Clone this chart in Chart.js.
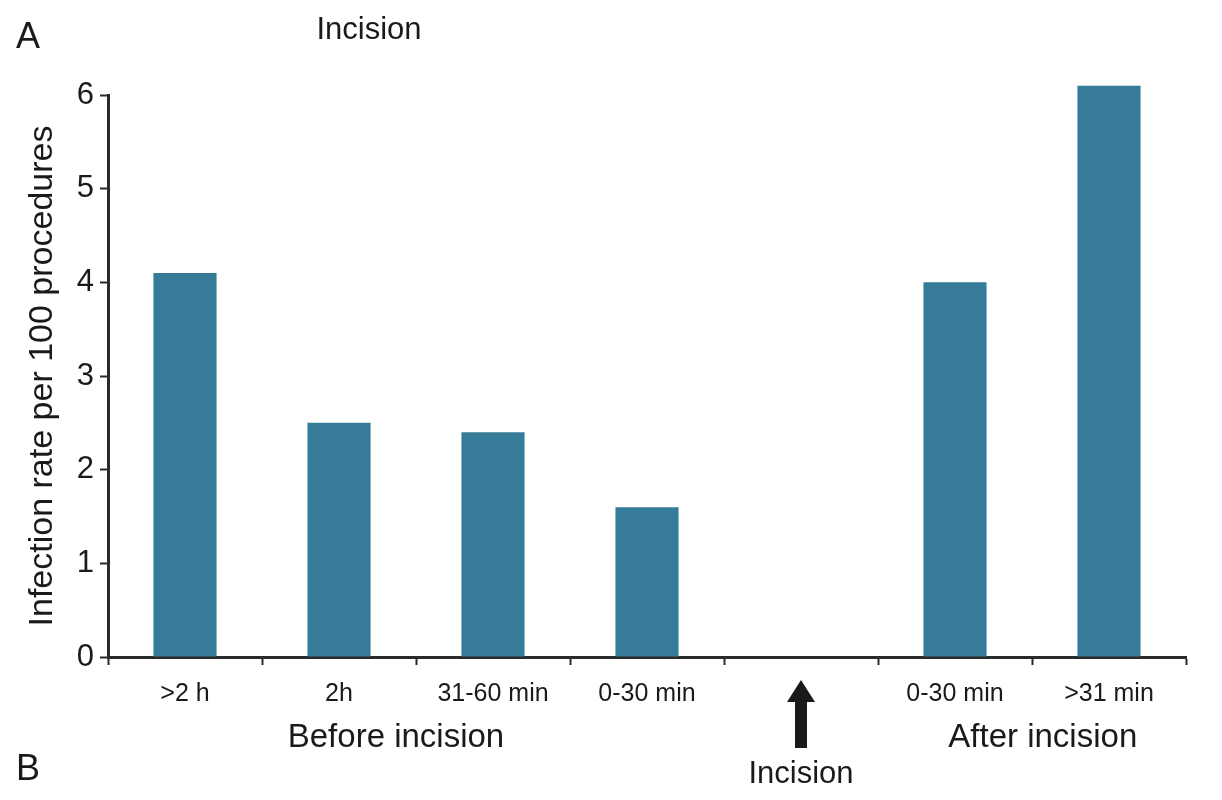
<!DOCTYPE html>
<html>
<head>
<meta charset="utf-8">
<script src="https://cdn.jsdelivr.net/npm/chart.js@4/dist/chart.umd.min.js"></script>
<style>
  html, body { margin: 0; padding: 0; background: #fff; }
  #wrap { width: 1222px; height: 800px; }
</style>
</head>
<body>
<div id="wrap"><canvas id="infectionChart" width="1222" height="800"></canvas></div>
<script>
// Catégories (l'emplacement vide = l'incision)
const timingLabels = ['>2 h', '2h', '31-60 min', '0-30 min', '', '0-30 min', '>31 min'];
const infectionRates = [4.1, 2.5, 2.4, 1.6, null, 4.0, 6.1];
const yTicks = [0, 1, 2, 3, 4, 5, 6];

const barColor = '#367b97';
const axisColor = '#2a2a2a';
const fontFamily = '"Liberation Sans", Arial, Helvetica, sans-serif';

// Textes autour du graphique : A, B, flèche, groupes
const annotationPlugin = {
  id: 'annotations',
  afterDraw(chart) {
    const ctx = chart.ctx;
    const x = chart.scales.x;
    ctx.save();
    ctx.fillStyle = '#1a1a1a';
    ctx.textAlign = 'center';
    ctx.textBaseline = 'middle';

    ctx.font = '36px ' + fontFamily;
    ctx.fillText('A', 28, 38);
    ctx.fillText('B', 28, 770);

    ctx.font = '31px ' + fontFamily;
    ctx.fillText('Incision', 369, 30);
    ctx.font = '33px ' + fontFamily;
    ctx.fillText('Before incision', x.getPixelForValue(1.37), 738);
    ctx.fillText('After incision', x.getPixelForValue(5.57), 738);

    // flèche de l'incision
    const ax = x.getPixelForValue(4);
    ctx.font = '31px ' + fontFamily;
    ctx.fillText('Incision', ax, 774);
    ctx.beginPath();
    ctx.moveTo(ax, 680);
    ctx.lineTo(ax + 14, 702);
    ctx.lineTo(ax + 6, 702);
    ctx.lineTo(ax + 6, 748);
    ctx.lineTo(ax - 6, 748);
    ctx.lineTo(ax - 6, 702);
    ctx.lineTo(ax - 14, 702);
    ctx.closePath();
    ctx.fill();
    ctx.restore();
  }
};

const ctx = document.getElementById('infectionChart').getContext('2d');
new Chart(ctx, {
  type: 'bar',
  data: {
    labels: timingLabels,
    datasets: [{
      data: infectionRates,
      backgroundColor: barColor,
      borderWidth: 0,
      barPercentage: 0.41,
      categoryPercentage: 1.0,
      clip: false
    }]
  },
  options: {
    responsive: false,
    animation: false,
    layout: { padding: { top: 95, right: 36, left: 0, bottom: 0 } },
    plugins: {
      legend: { display: false },
      tooltip: { enabled: false }
    },
    scales: {
      x: {
        grid: {
          offset: true,
          drawOnChartArea: false,
          drawTicks: true,
          tickLength: 8,
          tickWidth: 2,
          tickColor: axisColor
        },
        border: { color: axisColor, width: 3 },
        ticks: {
          color: '#1a1a1a',
          font: { family: fontFamily, size: 25 },
          padding: 14,
          maxRotation: 0,
          autoSkip: false
        },
        afterFit(scale) { scale.height = 143; }
      },
      y: {
        min: 0,
        max: 6,
        afterBuildTicks(scale) { scale.ticks = yTicks.map(v => ({ value: v })); },
        grid: {
          drawOnChartArea: false,
          drawTicks: true,
          tickLength: 8,
          tickWidth: 2,
          tickColor: axisColor
        },
        border: { color: axisColor, width: 3 },
        ticks: {
          color: '#1a1a1a',
          font: { family: fontFamily, size: 31 },
          padding: 6
        },
        title: {
          display: true,
          text: 'Infection rate per 100 procedures',
          color: '#1a1a1a',
          font: { family: fontFamily, size: 34 },
          padding: { top: 22, bottom: 10 }
        },
        afterFit(scale) { scale.width = 108; }
      }
    }
  },
  plugins: [annotationPlugin]
});
</script>
</body>
</html>
